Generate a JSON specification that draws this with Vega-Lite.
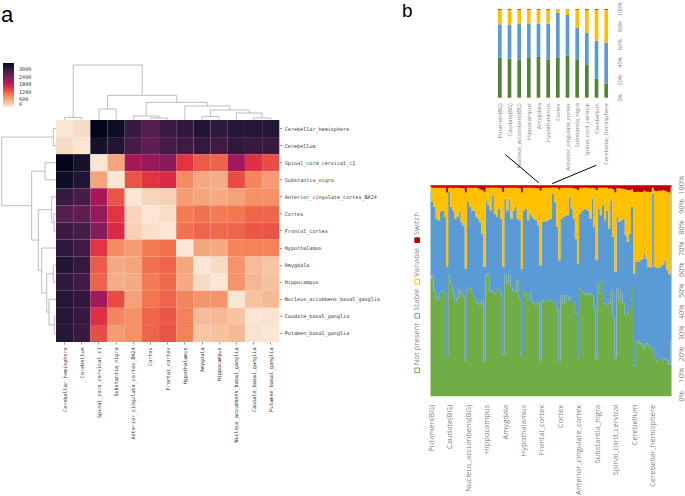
{
"$schema":"https://vega.github.io/schema/vega-lite/v6.json",
"padding":{"left":1,"top":1,"right":0,"bottom":0},
"config":{"view":{"stroke":null},"font":"Liberation Sans","axis":{"labelOverlap":false}},
"datasets":{
"tree":[
{"p1":0.5,"p2":0.5,"c1":0,"c2":2.3,"r1":0,"r2":2.7},{"p1":0.5,"p2":1.5,"c1":2.3,"c2":2.3,"r1":2.7,"r2":2.7},{"p1":1.5,"p2":1.5,"c1":0,"c2":2.3,"r1":0,"r2":2.7},
{"p1":2.5,"p2":2.5,"c1":0,"c2":10.7,"r1":0,"r2":11},{"p1":2.5,"p2":3.5,"c1":10.7,"c2":10.7,"r1":11,"r2":11},{"p1":3.5,"p2":3.5,"c1":0,"c2":10.7,"r1":0,"r2":11},
{"p1":5.5,"p2":5.5,"c1":0,"c2":1.7,"r1":0,"r2":2},{"p1":5.5,"p2":6.5,"c1":1.7,"c2":1.7,"r1":2,"r2":2},{"p1":6.5,"p2":6.5,"c1":0,"c2":1.7,"r1":0,"r2":2},
{"p1":4.5,"p2":4.5,"c1":0,"c2":3.7,"r1":0,"r2":4.3},{"p1":4.5,"p2":6,"c1":3.7,"c2":3.7,"r1":4.3,"r2":4.3},{"p1":6,"p2":6,"c1":1.7,"c2":3.7,"r1":2,"r2":4.3},
{"p1":8.5,"p2":8.5,"c1":0,"c2":3.3,"r1":0,"r2":2.7},{"p1":8.5,"p2":9.5,"c1":3.3,"c2":3.3,"r1":2.7,"r2":2.7},{"p1":9.5,"p2":9.5,"c1":0,"c2":3.3,"r1":0,"r2":2.7},
{"p1":11.5,"p2":11.5,"c1":0,"c2":1.7,"r1":0,"r2":1.7},{"p1":11.5,"p2":12.5,"c1":1.7,"c2":1.7,"r1":1.7,"r2":1.7},{"p1":12.5,"p2":12.5,"c1":0,"c2":1.7,"r1":0,"r2":1.7},
{"p1":10.5,"p2":10.5,"c1":0,"c2":6.7,"r1":0,"r2":7},{"p1":10.5,"p2":12,"c1":6.7,"c2":6.7,"r1":7,"r2":7},{"p1":12,"p2":12,"c1":1.7,"c2":6.7,"r1":1.7,"r2":7},
{"p1":9,"p2":9,"c1":3.3,"c2":9.7,"r1":2.7,"r2":9.3},{"p1":9,"p2":11.25,"c1":9.7,"c2":9.7,"r1":9.3,"r2":9.3},{"p1":11.25,"p2":11.25,"c1":6.7,"c2":9.7,"r1":7,"r2":9.3},
{"p1":7.5,"p2":7.5,"c1":0,"c2":13.7,"r1":0,"r2":14.3},{"p1":7.5,"p2":10.125,"c1":13.7,"c2":13.7,"r1":14.3,"r2":14.3},{"p1":10.125,"p2":10.125,"c1":9.7,"c2":13.7,"r1":9.3,"r2":14.3},
{"p1":5.25,"p2":5.25,"c1":3.7,"c2":17.3,"r1":4.3,"r2":17.7},{"p1":5.25,"p2":8.81,"c1":17.3,"c2":17.3,"r1":17.7,"r2":17.7},{"p1":8.81,"p2":8.81,"c1":13.7,"c2":17.3,"r1":14.3,"r2":17.7},
{"p1":3,"p2":3,"c1":10.7,"c2":24.3,"r1":11,"r2":24.3},{"p1":3,"p2":7.03,"c1":24.3,"c2":24.3,"r1":24.3,"r2":24.3},{"p1":7.03,"p2":7.03,"c1":17.3,"c2":24.3,"r1":17.7,"r2":24.3},
{"p1":1,"p2":1,"c1":2.3,"c2":54.7,"r1":2.7,"r2":54.3},{"p1":1,"p2":5.02,"c1":54.7,"c2":54.7,"r1":54.3,"r2":54.3},{"p1":5.02,"p2":5.02,"c1":24.3,"c2":54.7,"r1":24.3,"r2":54.3}
],
"matrix":[
{"row":"Cerebellar_hemisphere","v":[50,150,3500,3380,2971,2723,2930,3054,3178,3054,3137,3137,3137]},
{"row":"Cerebellum","v":[150,50,3300,3178,2847,2640,2847,2888,3012,2888,3054,2971,2971]},
{"row":"Spinal_cord_cervical_c1","v":[3500,3300,50,634,2047,2189,2330,1500,1230,1173,2094,1545,1338]},
{"row":"Substantia_nigra","v":[3380,3178,634,50,1284,1500,1591,828,593,566,1338,885,702]},
{"row":"Anterior_cingulate_cortex_BA24","v":[2971,2847,2047,1284,50,206,243,702,634,593,661,805,805]},
{"row":"Cortex","v":[2723,2640,2189,1500,206,50,120,966,1035,966,1000,1150,1150]},
{"row":"Frontal_cortex","v":[2930,2847,2330,1591,243,120,50,1035,1150,1115,1150,1262,1284]},
{"row":"Hypothalamus","v":[3054,2888,1500,828,702,966,1035,50,634,593,897,920,920]},
{"row":"Amygdala","v":[3178,3012,1230,593,634,1035,1150,634,50,150,781,430,356]},
{"row":"Hippocampus","v":[3054,2888,1173,566,593,966,1115,593,150,50,781,471,393]},
{"row":"Nucleus_accumbens_basal_ganglia","v":[3137,3054,2094,1338,661,1000,1150,897,781,781,50,374,457]},
{"row":"Caudate_basal_ganglia","v":[3137,2971,1545,885,805,1150,1262,920,430,471,374,50,90]},
{"row":"Putamen_basal_ganglia","v":[3137,2971,1338,702,805,1150,1284,920,356,393,457,90,50]}
],
"bars":[
{"t":"Putamen(BG)","g":45,"b":82.7,"y":98.9,"z":0,"u":100},{"t":"Caudate(BG)","g":44,"b":82.3,"y":98.9,"z":0,"u":100},{"t":"Nucleus_accumbens(BG)","g":43,"b":83.5,"y":99,"z":0,"u":100},{"t":"Hippocampus","g":45.5,"b":83.8,"y":99,"z":0,"u":100},{"t":"Amygdala","g":46,"b":83.5,"y":99,"z":0,"u":100},{"t":"Hypothalamus","g":43,"b":83.5,"y":99,"z":0,"u":100},{"t":"Cortex","g":45.5,"b":95.9,"y":99.8,"z":0,"u":100},{"t":"Anterior_cingulate_cortex","g":47.5,"b":93.2,"y":99.8,"z":0,"u":100},{"t":"Substantia_nigra","g":42.5,"b":79,"y":99,"z":0,"u":100},{"t":"Spinal_cord_cervical","g":37,"b":73,"y":98.5,"z":0,"u":100},{"t":"Cerebellum","g":21.4,"b":64.3,"y":98.8,"z":0,"u":100},{"t":"Cerebellar_hemisphere","g":16,"b":62,"y":98.8,"z":0,"u":100}
],
"cols":[
{"i":1,"g":55.8,"b":96.8,"y":99.2},{"i":2,"g":57.3,"b":92.1,"y":98.8},{"i":3,"g":50.2,"b":89.7,"y":98.8},{"i":4,"g":46.3,"b":84.2,"y":98.8},{"i":5,"g":45.5,"b":83.4,"y":98.8},{"i":6,"g":49.5,"b":87.3,"y":98.8},{"i":7,"g":49.5,"b":88.1,"y":98.8},{"i":8,"g":48.7,"b":85,"y":98.8},{"i":9,"g":18.6,"b":61.3,"y":96.6},
{"i":10,"g":57.3,"b":96.8,"y":98.8},{"i":11,"g":53.4,"b":89.7,"y":98.8},{"i":12,"g":49.5,"b":88.1,"y":98.6},{"i":13,"g":44.7,"b":84.2,"y":98.8},{"i":14,"g":46.3,"b":85,"y":98.8},{"i":15,"g":50.2,"b":87.3,"y":98.8},{"i":16,"g":48.7,"b":82.5,"y":98.6},{"i":17,"g":47.9,"b":81,"y":98.6},{"i":18,"g":17,"b":60.5,"y":96.6},
{"i":19,"g":51.8,"b":92.1,"y":98.8},{"i":20,"g":51,"b":89.7,"y":98.8},{"i":21,"g":49.5,"b":88.1,"y":98.8},{"i":22,"g":47,"b":88.1,"y":98.8},{"i":23,"g":44.7,"b":85,"y":98.8},{"i":24,"g":43.9,"b":84.2,"y":98.6},{"i":25,"g":43.1,"b":82.5,"y":98},{"i":26,"g":45.5,"b":77,"y":97.8},{"i":27,"g":16.3,"b":61.3,"y":97},
{"i":28,"g":57.3,"b":92.9,"y":98.8},{"i":29,"g":58.1,"b":90.5,"y":98.8},{"i":30,"g":49.5,"b":88.1,"y":98.8},{"i":31,"g":50.2,"b":95.3,"y":99},{"i":32,"g":48.7,"b":86.6,"y":98.8},{"i":33,"g":49.5,"b":85,"y":98.8},{"i":34,"g":51,"b":89,"y":98.8},{"i":35,"g":47.9,"b":84.2,"y":98.6},{"i":36,"g":19.4,"b":61.3,"y":96.8},
{"i":37,"g":58.1,"b":93.7,"y":98.8},{"i":38,"g":53.4,"b":88.1,"y":98.8},{"i":39,"g":57.3,"b":92.9,"y":98.8},{"i":40,"g":51.8,"b":84.2,"y":98.8},{"i":41,"g":49.5,"b":88.1,"y":98.8},{"i":42,"g":49.5,"b":89.7,"y":98.8},{"i":43,"g":55,"b":84.2,"y":98.8},{"i":44,"g":45.5,"b":83.4,"y":98.6},{"i":45,"g":18.6,"b":60.5,"y":96.6},
{"i":46,"g":50.2,"b":88.1,"y":98.8},{"i":47,"g":48.7,"b":89,"y":98.8},{"i":48,"g":44.7,"b":83.4,"y":98.8},{"i":49,"g":49.5,"b":86.6,"y":98.8},{"i":50,"g":44.7,"b":85,"y":98.8},{"i":51,"g":43.9,"b":84.2,"y":98.8},{"i":52,"g":43.1,"b":83.4,"y":98.6},{"i":53,"g":44.7,"b":81,"y":98.6},{"i":54,"g":17,"b":62.1,"y":97.4},
{"i":55,"g":45.5,"b":82.6,"y":98.8},{"i":56,"g":44.7,"b":83,"y":98.8},{"i":57,"g":45.2,"b":83,"y":98.8},{"i":58,"g":45.5,"b":83.7,"y":98.8},{"i":59,"g":45.5,"b":84.2,"y":98.8},{"i":60,"g":45.2,"b":95.9,"y":99},{"i":61,"g":43.9,"b":92,"y":98.8},{"i":62,"g":41.5,"b":80.3,"y":98.8},{"i":63,"g":16.3,"b":64.5,"y":98},
{"i":64,"g":47.9,"b":84.2,"y":98.8},{"i":65,"g":43.9,"b":85,"y":98.8},{"i":66,"g":47.9,"b":85.8,"y":98.8},{"i":67,"g":45.5,"b":85.8,"y":98.8},{"i":68,"g":47,"b":94.5,"y":98.8},{"i":69,"g":44.7,"b":89,"y":98.8},{"i":70,"g":44.7,"b":84.2,"y":98.6},{"i":71,"g":39.2,"b":74.7,"y":98.4},{"i":72,"g":17.9,"b":62.9,"y":97.8},
{"i":73,"g":51,"b":86.6,"y":98.8},{"i":74,"g":49.5,"b":88.1,"y":98.8},{"i":75,"g":48.7,"b":88.6,"y":98.8},{"i":76,"g":47.9,"b":88.6,"y":98.8},{"i":77,"g":48.7,"b":88.1,"y":98.8},{"i":78,"g":48.3,"b":84.2,"y":98.6},{"i":79,"g":47.9,"b":93.7,"y":98.8},{"i":80,"g":41.5,"b":80.3,"y":98.6},{"i":81,"g":17.9,"b":64.5,"y":97.8},
{"i":82,"g":54.2,"b":89,"y":98.8},{"i":83,"g":48.7,"b":85.8,"y":98.8},{"i":84,"g":55,"b":90.5,"y":98.8},{"i":85,"g":43.9,"b":83.4,"y":98.8},{"i":86,"g":43.1,"b":88.1,"y":98.8},{"i":87,"g":43.9,"b":79.5,"y":98.4},{"i":88,"g":50.2,"b":92.9,"y":98.6},{"i":89,"g":37.6,"b":75.5,"y":98},{"i":90,"g":17.9,"b":58.9,"y":96.6},
{"i":91,"g":51,"b":85,"y":98.6},{"i":92,"g":45.5,"b":82.6,"y":98.6},{"i":93,"g":49.5,"b":83.4,"y":98.4},{"i":94,"g":43.9,"b":84.2,"y":98.4},{"i":95,"g":38.4,"b":76.3,"y":98},{"i":96,"g":39.2,"b":73.1,"y":97.8},{"i":97,"g":42.3,"b":77,"y":97.6},{"i":98,"g":51.8,"b":89.7,"y":98},{"i":99,"g":14.7,"b":58.1,"y":96.8},
{"i":100,"g":25.8,"b":63.7,"y":96.8},{"i":101,"g":26.5,"b":63.7,"y":97},{"i":102,"g":25,"b":64.5,"y":96.8},{"i":103,"g":24.2,"b":65.3,"y":96.8},{"i":104,"g":22.6,"b":67.7,"y":97.4},{"i":105,"g":25,"b":65.3,"y":97},{"i":106,"g":24.2,"b":61.3,"y":97},{"i":107,"g":22.6,"b":61,"y":96.8},{"i":108,"g":23.4,"b":96,"y":98.8},
{"i":109,"g":18.6,"b":61.3,"y":97.4},{"i":110,"g":17,"b":60.8,"y":97.2},{"i":111,"g":17.9,"b":61,"y":97.4},{"i":112,"g":16.7,"b":61.6,"y":97.4},{"i":113,"g":17.9,"b":62.6,"y":97.6},{"i":114,"g":17.4,"b":64.5,"y":97.4},{"i":115,"g":17,"b":59.8,"y":97},{"i":116,"g":14.7,"b":57.9,"y":96.6},{"i":117,"g":25.8,"b":96.8,"y":99}
],
"blocks":[
{"t":"Putamen(BG)","i":1.5,"q":-4},{"t":"Caudate(BG)","i":10.4,"q":-4},{"t":"Nucleus_accumbens(BG)","i":19.3,"q":-4},{"t":"Hippocampus","i":28.2,"q":-4},{"t":"Amygdala","i":37.1,"q":-4},{"t":"Hypothalamus","i":46,"q":-4},{"t":"Frontal_cortex","i":54.9,"q":-4},{"t":"Cortex","i":63.8,"q":-4},{"t":"Anterior_cingulate_cortex","i":72.7,"q":-4},{"t":"Substantia_nigra","i":81.6,"q":-4},{"t":"Spinal_cord_cervical","i":90.5,"q":-4},{"t":"Cerebellum","i":99.4,"q":-4},{"t":"Cerebellar_hemisphere","i":108.3,"q":-4}
],
"links":[{"a":37.1,"a2":53.1,"p":114.5,"p2":101.2},{"a":80.8,"a2":59.6,"p":109.5,"p2":100.8}],
"keys":[{"s":"Not present","k":12.3,"h":-5.4},{"s":"Stable","k":38.2,"h":-5.4},{"s":"Variable","k":54.3,"h":-5.4},{"s":"Switch","k":74,"h":-5.4}],
"ticksBig":[{"p":0,"l":"0%","h":122},{"p":10,"l":"10%","h":122},{"p":20,"l":"20%","h":122},{"p":30,"l":"30%","h":122},{"p":40,"l":"40%","h":122},{"p":50,"l":"50%","h":122},{"p":60,"l":"60%","h":122},{"p":70,"l":"70%","h":122},{"p":80,"l":"80%","h":122},{"p":90,"l":"90%","h":122},{"p":100,"l":"100%","h":122}],
"ticksSmall":[{"p":0,"l":"0%","t":"Cerebellar_hemisphere"},{"p":20,"l":"20%","t":"Cerebellar_hemisphere"},{"p":40,"l":"40%","t":"Cerebellar_hemisphere"},{"p":60,"l":"60%","t":"Cerebellar_hemisphere"},{"p":80,"l":"80%","t":"Cerebellar_hemisphere"},{"p":100,"l":"100%","t":"Cerebellar_hemisphere"}]
},
"concat":[
 {"title":{"text":"a","anchor":"start","fontSize":22,"fontWeight":"normal","font":"Liberation Sans","color":"#000","dy":18,"dx":0,"offset":0},
  "data":{"values":[{"n":0}]},"mark":{"type":"point","opacity":0},"encoding":{},"width":55,"height":110.7},
 {"data":{"name":"tree"},"width":223.3,"height":110.7,
  "mark":{"type":"rule","color":"#b5b5b5","strokeWidth":0.9},
  "encoding":{
   "x":{"field":"p1","type":"quantitative","scale":{"domain":[0,13],"nice":false},"axis":null},
   "x2":{"field":"p2"},
   "y":{"field":"c1","type":"quantitative","scale":{"domain":[0,110.7],"nice":false},"axis":null},
   "y2":{"field":"c2"}}},
 {"title":{"text":"b","anchor":"start","fontSize":19,"fontWeight":"normal","font":"Liberation Sans","color":"#000","dx":122,"dy":19,"offset":0},
  "data":{"name":"bars"},"width":391.5,"height":110.7,
  "encoding":{"x":{"field":"t","type":"nominal","sort":null,"title":null,"scale":{"range":[215,331],"paddingInner":0.62,"paddingOuter":0.31},
     "axis":{"offset":-22,"labelAngle":-90,"labelFont":"Open Sans","labelFontSize":5.7,"labelColor":"#7f7f7f","ticks":false,"domain":false,"labelPadding":5,"labelLimit":200}}},
  "layer":[
    {"mark":{"type":"bar","color":"#548235"},"encoding":{"y":{"field":"z","type":"quantitative","scale":{"domain":[0,100],"nice":false,"range":[88.7,0]},"title":null,"axis":null},"y2":{"field":"g"}}},
    {"mark":{"type":"bar","color":"#5b9bd5"},"encoding":{"y":{"field":"g","type":"quantitative","axis":null},"y2":{"field":"b"}}},
    {"mark":{"type":"bar","color":"#ffc000"},"encoding":{"y":{"field":"b","type":"quantitative","axis":null},"y2":{"field":"y"}}},
    {"mark":{"type":"bar","color":"#d8402a"},"encoding":{"y":{"field":"y","type":"quantitative","axis":null},"y2":{"field":"u"}}},
    {"data":{"name":"ticksSmall"},"mark":{"type":"text","angle":-90,"align":"center","baseline":"middle","font":"Open Sans","fontSize":5.6,"color":"#7f7f7f","dy":14.3},
     "encoding":{"y":{"field":"p","type":"quantitative","axis":null},"text":{"field":"l","type":"nominal"}}}
  ]},
 {"data":{"name":"tree"},"width":55,"height":222,
  "mark":{"type":"rule","color":"#b5b5b5","strokeWidth":0.9},
  "encoding":{
   "x":{"field":"r1","type":"quantitative","scale":{"domain":[55,0],"nice":false},"axis":null},
   "x2":{"field":"r2"},
   "y":{"field":"p1","type":"quantitative","scale":{"domain":[13,0],"nice":false},"axis":null},
   "y2":{"field":"p2"}}},
 {"data":{"name":"matrix"},
  "transform":[
   {"calculate":"['Cerebellar_hemisphere','Cerebellum','Spinal_cord_cervical_c1','Substantia_nigra','Anterior_cingulate_cortex_BA24','Cortex','Frontal_cortex','Hypothalamus','Amygdala','Hippocampus','Nucleus_accumbens_basal_ganglia','Caudate_basal_ganglia','Putamen_basal_ganglia']","as":"col"},
   {"flatten":["col","v"]}],
  "width":223.3,"height":222,
  "mark":{"type":"rect"},
  "encoding":{
   "x":{"field":"col","type":"nominal","sort":null,"title":null,"scale":{"paddingInner":0,"paddingOuter":0},
     "axis":{"orient":"bottom","labelAngle":-90,"labelFont":"DejaVu Sans Mono","labelFontSize":5.1,"labelColor":"#333","tickSize":2,"tickColor":"#333","tickWidth":0.6,"domain":false,"labelPadding":3,"labelLimit":200}},
   "y":{"field":"row","type":"nominal","sort":null,"title":null,"scale":{"paddingInner":0,"paddingOuter":0},
     "axis":{"orient":"right","labelFont":"DejaVu Sans Mono","labelFontSize":5.1,"labelColor":"#333","tickSize":2,"tickColor":"#333","tickWidth":0.6,"domain":false,"labelPadding":3,"labelLimit":200}},
   "color":{"field":"v","type":"quantitative","scale":{"domain":[0,500,1000,1500,2000,2500,3000,3500],"range":["#faebdd","#f6b48f","#f37651","#e13342","#ad1759","#701f57","#35193e","#03051a"]},
     "legend":{"orient":"none","legendX":2,"legendY":54,"title":null,"gradientLength":44,"gradientThickness":11,"values":[0,600,1200,1800,2400,3000],"format":"d","labelOverlap":false,"labelFont":"DejaVu Sans Mono","labelFontSize":5.1,"labelColor":"#333","labelOffset":5,"gradientStrokeWidth":0}}}},
 {"width":391.5,"height":276.3,
  "layer":[
   {"data":{"name":"cols"},"transform":[{"calculate":"0","as":"z"}],"mark":{"type":"area","color":"#70ad47","interpolate":"step"},
    "encoding":{"x":{"field":"i","type":"quantitative","scale":{"domain":[1,117],"nice":false,"range":[150.5,391.5]},"axis":null},
     "y":{"field":"z","type":"quantitative","scale":{"domain":[0,100],"nice":false,"range":[276.3,65.3]},"title":null,"axis":null},
     "y2":{"field":"g"}}},
   {"data":{"name":"cols"},"mark":{"type":"area","color":"#5b9bd5","interpolate":"step"},
    "encoding":{"x":{"field":"i","type":"quantitative","axis":null},"y":{"field":"g","type":"quantitative","axis":null},"y2":{"field":"b"}}},
   {"data":{"name":"cols"},"mark":{"type":"area","color":"#ffc000","interpolate":"step"},
    "encoding":{"x":{"field":"i","type":"quantitative","axis":null},"y":{"field":"b","type":"quantitative","axis":null},"y2":{"field":"y"}}},
   {"data":{"name":"cols"},"transform":[{"calculate":"100","as":"u"}],"mark":{"type":"area","color":"#c00000","interpolate":"step"},
    "encoding":{"x":{"field":"i","type":"quantitative","axis":null},"y":{"field":"y","type":"quantitative","axis":null},"y2":{"field":"u"}}},
   {"data":{"name":"blocks"},"mark":{"type":"text","angle":-90,"align":"right","baseline":"middle","font":"Open Sans","fontSize":7.6,"color":"#7f7f7f"},
    "encoding":{"x":{"field":"i","type":"quantitative","axis":null},"y":{"field":"q","type":"quantitative","axis":null},"text":{"field":"t","type":"nominal"}}},
   {"data":{"name":"ticksBig"},"mark":{"type":"text","angle":-90,"align":"center","baseline":"middle","font":"Open Sans","fontSize":7.4,"color":"#7f7f7f"},
    "encoding":{"x":{"field":"h","type":"quantitative","axis":null},"y":{"field":"p","type":"quantitative","axis":null},"text":{"field":"l","type":"nominal"}}},
   {"data":{"name":"links"},"mark":{"type":"rule","color":"#000","strokeWidth":1},
    "encoding":{"x":{"field":"a","type":"quantitative","axis":null},"x2":{"field":"a2"},"y":{"field":"p","type":"quantitative","axis":null},"y2":{"field":"p2"}}},
   {"data":{"name":"keys"},"mark":{"type":"point","shape":"square","size":22,"strokeWidth":1,"filled":true,"opacity":1},
    "encoding":{"x":{"field":"h","type":"quantitative","axis":null},"y":{"field":"k","type":"quantitative","axis":null},
      "stroke":{"field":"s","type":"nominal","legend":null,"scale":{"domain":["Not present","Stable","Variable","Switch"],"range":["#70ad47","#5b9bd5","#ffc000","#c00000"]}},
      "fill":{"condition":{"test":"datum.s==='Switch'","value":"#c00000"},"value":"#ffffff"}}},
   {"data":{"name":"keys"},"mark":{"type":"text","angle":-90,"align":"left","baseline":"middle","font":"Open Sans","fontSize":7.6,"color":"#7f7f7f","dx":5},
    "encoding":{"x":{"field":"h","type":"quantitative","axis":null},"y":{"field":"k","type":"quantitative","axis":null},"text":{"field":"s","type":"nominal"}}}
  ]}
],"columns":3,"spacing":0,"bounds":"flush","align":"each"
}
